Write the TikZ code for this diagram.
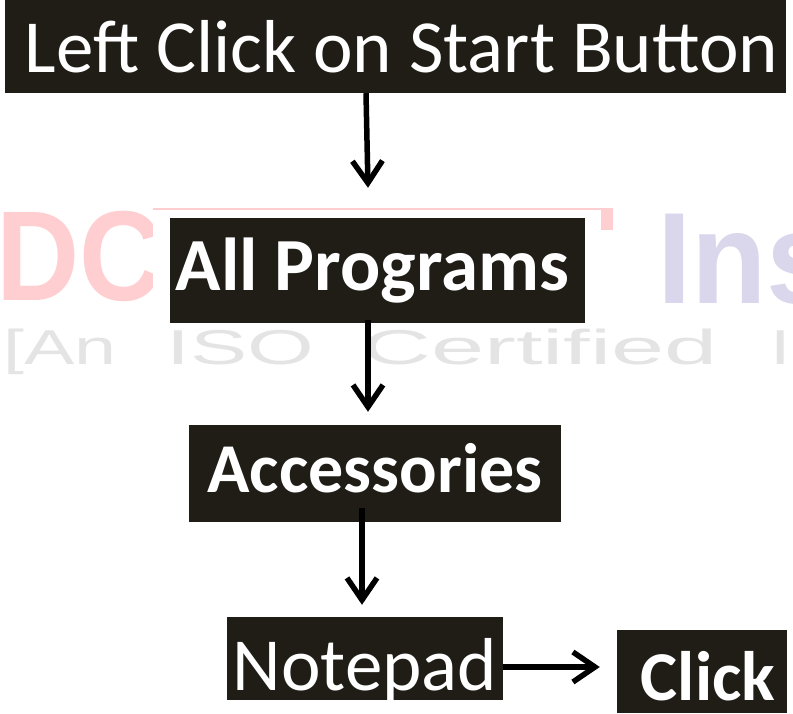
\documentclass[tikz,border=0pt]{standalone}
\usepackage{fontspec}
\setmainfont{Carlito}
\newfontfamily\wmfont{Liberation Sans}
\usetikzlibrary{arrows.meta}
\definecolor{boxfill}{RGB}{32,29,23}
\definecolor{wmpink}{RGB}{255,206,208}
\definecolor{wmlav}{RGB}{218,214,236}
\definecolor{wmgray}{RGB}{228,228,228}
\begin{document}
\begin{tikzpicture}[x=1pt,y=-1pt,
  stepbox/.style={fill=boxfill,text=white,inner sep=0pt,anchor=center,text depth=0pt},
  regtext/.style={font=\fontsize{75}{80}\selectfont},
  boldtext/.style={font=\fontsize{75}{80}\selectfont\bfseries},
  arr/.style={line width=5.5pt,-{Straight Barb[length=22pt,width=30pt]}},
  wmark/.style={inner sep=0pt,anchor=base west}]
\useasboundingbox (0,0) rectangle (793,713);
% watermark
\node[wmark,text=wmpink,font=\wmfont\bfseries\fontsize{128}{128}\selectfont] (wm1) at (-4,300) {\scalebox{0.9}[1]{DC}};
\node[wmark,text=wmlav,font=\wmfont\bfseries\fontsize{130}{130}\selectfont] (wm2) at (657,303) {\scalebox{0.95}[1]{Ins}};
\fill[white] (153,210) rectangle (601,322);
\fill[wmpink] (153,208) rectangle (613,210);
\fill[wmpink] (601,208) rectangle (613,230);
\node[wmark,text=wmgray,font=\wmfont\fontsize{49}{49}\selectfont] (wm3) at (3,364) {\scalebox{1.54}[1]{[An}};
\node[wmark,text=wmgray,font=\wmfont\fontsize{49}{49}\selectfont] (wm4) at (166,364) {\scalebox{1.75}[1]{ISO}};
\node[wmark,text=wmgray,font=\wmfont\fontsize{49}{49}\selectfont] (wm5) at (362,364) {\scalebox{1.95}[1]{Certified}};
\node[wmark,text=wmgray,font=\wmfont\fontsize{49}{49}\selectfont] (wm6) at (770,364) {\scalebox{1.5}[1]{I}};
% boxes
\node[stepbox,regtext,minimum width=781pt,minimum height=93pt,text height=52pt] (n1) at (395.5,46.5) {\hspace*{12pt}Left Click on Start Button};
\node[stepbox,boldtext,minimum width=415pt,minimum height=105pt,text height=39pt] (n2) at (377.5,270.5) {All Programs\hspace*{10pt}};
\node[stepbox,font=\fontsize{70}{76}\selectfont\bfseries,minimum width=372pt,minimum height=97pt,text height=37pt] (n3) at (375,473.5) {Accessories};
\node[stepbox,regtext,minimum width=276pt,minimum height=83pt,text height=63pt] (n4) at (365,658.5) {Notepad};
\node[stepbox,font=\fontsize{70}{76}\selectfont\bfseries,minimum width=170pt,minimum height=83pt,text height=57pt] (n5) at (702,671.5) {\hspace*{12pt}Click};
% connectors
\draw[arr] ([xshift=-29.5pt]n1.south) -- ([xshift=-9.5pt,yshift=30pt]n2.north);
\draw[arr] ([xshift=-9.5pt,yshift=3pt]n2.south) -- ([xshift=-7pt,yshift=13pt]n3.north);
\draw[arr] ([xshift=-13pt,yshift=14pt]n3.south) -- ([xshift=-3pt,yshift=12pt]n4.north);
\draw[arr] ([yshift=-8.5pt]n4.east) -- ([xshift=-17pt,yshift=4.5pt]n5.west);
\end{tikzpicture}
\end{document}
